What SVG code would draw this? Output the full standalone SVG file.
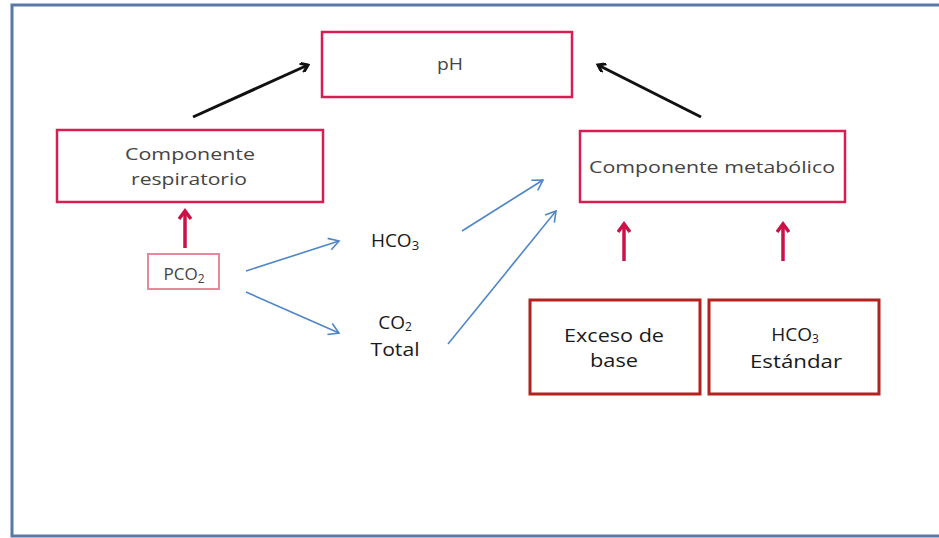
<svg xmlns="http://www.w3.org/2000/svg" width="939" height="538" viewBox="0 0 939 538">
  <style>
    .frame { fill: #ffffff; stroke: #5a78a6; stroke-width: 3; }
    .pink { fill: #ffffff; stroke: #d81e50; stroke-width: 2.5; }
    .light { fill: #ffffff; stroke: #e58a9a; stroke-width: 2; }
    .dark { fill: #ffffff; stroke: #b0231e; stroke-width: 3; }
    text { font-family: "Open Sans", "Liberation Sans", sans-serif; text-anchor: middle; }
    .g { fill: #444444; font-size: 17px; }
    .t { fill: #1a1a1a; font-size: 19px; }
    .k { stroke: #111111; stroke-width: 3; fill: none; }
    .r { stroke: #cc1148; stroke-width: 3.5; fill: none; }
    .b { stroke: #4f86c6; stroke-width: 1.6; fill: none; }
  </style>
  <defs>
    <marker id="ak" markerWidth="10" markerHeight="10" refX="8" refY="5" orient="auto" markerUnits="userSpaceOnUse">
      <path d="M1,0 L8,5 L1,10" fill="none" stroke="#111111" stroke-width="3"/>
    </marker>
    <marker id="ar" markerWidth="14" markerHeight="14" refX="10" refY="7" orient="auto" markerUnits="userSpaceOnUse">
      <path d="M2,1 L10,7 L2,13" fill="none" stroke="#cc1148" stroke-width="3.5"/>
    </marker>
    <marker id="ab" markerWidth="14" markerHeight="14" refX="12" refY="7" orient="auto" markerUnits="userSpaceOnUse">
      <path d="M2,1 L12,7 L2,13" fill="none" stroke="#4f86c6" stroke-width="1.6"/>
    </marker>
  </defs>

  <rect class="frame" x="12" y="5" width="935" height="531"/>

  <g id="connectors">
    <line class="k" x1="193" y1="117" x2="308" y2="65" marker-end="url(#ak)"/>
    <line class="k" x1="701" y1="117" x2="598" y2="65" marker-end="url(#ak)"/>
    <line class="r" x1="185" y1="248" x2="185" y2="211" marker-end="url(#ar)"/>
    <line class="r" x1="624" y1="261" x2="624" y2="224" marker-end="url(#ar)"/>
    <line class="r" x1="783" y1="261" x2="783" y2="224" marker-end="url(#ar)"/>
    <line class="b" x1="246" y1="271" x2="339" y2="241" marker-end="url(#ab)"/>
    <line class="b" x1="246" y1="292" x2="339" y2="333" marker-end="url(#ab)"/>
    <line class="b" x1="462" y1="231" x2="543" y2="180" marker-end="url(#ab)"/>
    <line class="b" x1="448" y1="344" x2="556" y2="211" marker-end="url(#ab)"/>
  </g>

  <g id="ph">
    <rect class="pink" x="322" y="32" width="250" height="65"/>
    <text class="g" x="450" y="70" textLength="26" lengthAdjust="spacingAndGlyphs">pH</text>
  </g>

  <g id="respiratorio">
    <rect class="pink" x="57" y="130" width="266" height="72"/>
    <text class="g" x="190" y="160" textLength="130" lengthAdjust="spacingAndGlyphs">Componente</text>
    <text class="g" x="189" y="185" textLength="116" lengthAdjust="spacingAndGlyphs">respiratorio</text>
  </g>

  <g id="metabolico">
    <rect class="pink" x="580" y="131" width="265" height="71"/>
    <text class="g" x="712" y="173" textLength="246" lengthAdjust="spacingAndGlyphs">Componente metabólico</text>
  </g>

  <g id="pco2">
    <rect class="light" x="148" y="254" width="71" height="35"/>
    <text class="g" x="184" y="280" font-size="18">PCO<tspan font-size="12" dy="3">2</tspan></text>
  </g>

  <g id="hco3">
    <text class="t" x="395" y="247" font-size="20">HCO<tspan font-size="13" dy="3">3</tspan></text>
  </g>

  <g id="co2total">
    <text class="t" x="395" y="329" font-size="20">CO<tspan font-size="12" dy="2">2</tspan></text>
    <text class="t" x="395" y="356" textLength="49" lengthAdjust="spacingAndGlyphs">Total</text>
  </g>

  <g id="exceso">
    <rect class="dark" x="530" y="300" width="170" height="94"/>
    <text class="t" x="614" y="342" textLength="100" lengthAdjust="spacingAndGlyphs">Exceso de</text>
    <text class="t" x="614" y="367" textLength="48" lengthAdjust="spacingAndGlyphs">base</text>
  </g>

  <g id="estandar">
    <rect class="dark" x="709" y="300" width="170" height="94"/>
    <text class="t" x="795" y="341" font-size="20">HCO<tspan font-size="12" dy="2">3</tspan></text>
    <text class="t" x="796" y="368" textLength="92" lengthAdjust="spacingAndGlyphs">Estándar</text>
  </g>
</svg>
